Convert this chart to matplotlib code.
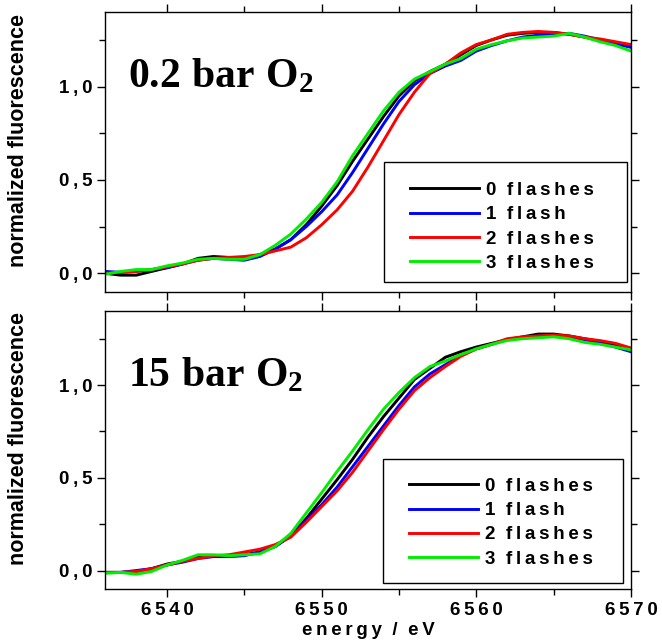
import matplotlib
matplotlib.use("Agg")
import matplotlib.pyplot as plt
from matplotlib.ticker import MultipleLocator, FuncFormatter
from matplotlib.patches import Rectangle

plt.rcParams['font.family'] = ['Liberation Sans', 'DejaVu Sans']
plt.rcParams['mathtext.fontset'] = 'custom'
plt.rcParams['mathtext.rm'] = 'Liberation Serif:bold'
plt.rcParams['mathtext.it'] = 'Liberation Serif:bold'
plt.rcParams['mathtext.bf'] = 'Liberation Serif:bold'

energy = list(range(6536, 6571))

labels = ["0 flashes", "1 flash", "2 flashes", "3 flashes"]
colors = ["#000000", "#0000ff", "#ff0000", "#00ee00"]

# panel 1: 0.2 bar O2
top_0 = [0.00, -0.01, -0.01, 0.01, 0.03, 0.05, 0.08, 0.09, 0.085, 0.08, 0.10, 0.13, 0.18, 0.26, 0.36,
         0.47, 0.60, 0.72, 0.84, 0.95, 1.03, 1.08, 1.12, 1.17, 1.22, 1.25, 1.275, 1.285, 1.29, 1.29,
         1.28, 1.265, 1.245, 1.225, 1.215]
top_1 = [0.01, 0.005, 0.01, 0.02, 0.03, 0.05, 0.07, 0.08, 0.075, 0.07, 0.09, 0.13, 0.18, 0.25, 0.33,
         0.42, 0.54, 0.67, 0.80, 0.92, 1.01, 1.07, 1.11, 1.14, 1.19, 1.22, 1.245, 1.265, 1.275, 1.28,
         1.285, 1.27, 1.25, 1.23, 1.21]
top_2 = [0.00, 0.005, 0.01, 0.02, 0.035, 0.05, 0.07, 0.08, 0.085, 0.09, 0.10, 0.12, 0.14, 0.19, 0.26,
         0.34, 0.44, 0.57, 0.71, 0.85, 0.97, 1.07, 1.12, 1.18, 1.225, 1.25, 1.28, 1.29, 1.295, 1.29,
         1.28, 1.265, 1.255, 1.24, 1.225]
top_3 = [-0.005, 0.01, 0.02, 0.02, 0.04, 0.055, 0.075, 0.08, 0.075, 0.075, 0.10, 0.15, 0.21, 0.29, 0.38,
         0.49, 0.63, 0.75, 0.87, 0.97, 1.04, 1.08, 1.12, 1.15, 1.20, 1.225, 1.245, 1.26, 1.265, 1.27,
         1.285, 1.265, 1.24, 1.22, 1.19]

# panel 2: 15 bar O2
bot_0 = [-0.01, -0.01, -0.005, 0.01, 0.035, 0.05, 0.075, 0.08, 0.08, 0.085, 0.10, 0.13, 0.19, 0.28, 0.385,
         0.49, 0.60, 0.72, 0.83, 0.93, 1.03, 1.09, 1.15, 1.18, 1.205, 1.225, 1.245, 1.26, 1.275, 1.275,
         1.265, 1.25, 1.235, 1.215, 1.19]
bot_1 = [-0.01, -0.01, 0.00, 0.01, 0.03, 0.045, 0.065, 0.075, 0.075, 0.08, 0.10, 0.13, 0.185, 0.27, 0.355,
         0.45, 0.56, 0.67, 0.78, 0.89, 0.99, 1.06, 1.11, 1.16, 1.195, 1.22, 1.245, 1.255, 1.265, 1.265,
         1.26, 1.245, 1.225, 1.205, 1.18]
bot_2 = [-0.01, -0.01, -0.005, 0.01, 0.03, 0.05, 0.065, 0.08, 0.085, 0.10, 0.115, 0.14, 0.18, 0.26, 0.345,
         0.43, 0.53, 0.645, 0.76, 0.87, 0.97, 1.04, 1.10, 1.155, 1.195, 1.22, 1.25, 1.26, 1.265, 1.27,
         1.265, 1.25, 1.24, 1.225, 1.20]
bot_3 = [-0.015, -0.01, -0.02, -0.005, 0.03, 0.055, 0.085, 0.085, 0.08, 0.085, 0.09, 0.13, 0.20, 0.31, 0.42,
         0.535, 0.645, 0.76, 0.87, 0.96, 1.04, 1.10, 1.13, 1.165, 1.195, 1.22, 1.24, 1.25, 1.255, 1.26,
         1.25, 1.23, 1.22, 1.205, 1.19]

panels = [
    (r"$\mathrm{0.2\ bar\ O_2}$", [top_0, top_1, top_2, top_3]),
    (r"$\mathrm{15\ bar\ O_2}$", [bot_0, bot_1, bot_2, bot_3]),
]

SP = "\u2009"


def spaced(s):
    return SP.join(list(s)).replace(SP + " " + SP, "  ")


fig = plt.figure(figsize=(6.62, 6.41), dpi=100)
rects = [[0.159, 0.5445, 0.794, 0.437], [0.159, 0.081, 0.794, 0.434]]
boxes = [(0.530, 0.036, 0.462, 0.428), (0.529, 0.022, 0.456, 0.446)]
leg_anchor = [(0.580, 0.393), (0.578, 0.400)]

for i, (title, series) in enumerate(panels):
    ax = fig.add_axes(rects[i])
    for lab, col, ys in zip(labels, colors, series):
        ax.plot(energy, ys, color=col, lw=2.1, label=spaced(lab))
    ax.set_xlim(6536, 6570)
    ax.set_ylim(-0.1, 1.4)
    ax.xaxis.set_major_locator(MultipleLocator(10))
    ax.xaxis.set_minor_locator(MultipleLocator(5))
    ax.yaxis.set_major_locator(MultipleLocator(0.5))
    ax.yaxis.set_minor_locator(MultipleLocator(0.25))
    ax.tick_params(which='both', direction='out', top=True, right=True, width=1)
    ax.tick_params(which='major', length=6)
    ax.tick_params(which='minor', length=4)
    ax.yaxis.set_major_formatter(FuncFormatter(lambda v, p: spaced(f"{v:.1f}".replace('.', ','))))
    ax.tick_params(axis='both', labelsize=13.5)
    if i == 0:
        ax.set_xticklabels([])
    else:
        ax.xaxis.set_major_formatter(FuncFormatter(lambda v, p: spaced(f"{v:.0f}")))
        ax.set_xlabel(spaced("energy / eV"), fontsize=13.5, fontweight='bold', labelpad=2)
    for t in ax.get_yticklabels() + ax.get_xticklabels():
        t.set_fontweight('bold')
    ax.set_ylabel("normalized fluorescence", fontsize=15.5, fontweight='bold')
    ax.yaxis.set_label_coords(-0.146, 0.54)
    for s in ax.spines.values():
        s.set_linewidth(1.0)
    ax.text(0.044, 0.73, title, transform=ax.transAxes, fontsize=30, ha='left', va='baseline')
    bx, by, bw, bh = boxes[i]
    ax.add_patch(Rectangle((bx, by), bw, bh, transform=ax.transAxes, fill=True, facecolor='white',
                           edgecolor='black', lw=1.0, zorder=4))
    leg = ax.legend(loc='upper left', bbox_to_anchor=leg_anchor[i], frameon=False,
                    fontsize=13.5, handlelength=3.7, handletextpad=0.35,
                    labelspacing=0.38, borderpad=0.0, borderaxespad=0.0)
    leg.set_zorder(5)
    for line in leg.get_lines():
        line.set_linewidth(2.1)
    for t in leg.get_texts():
        t.set_fontweight('bold')

fig.savefig("out.png", dpi=100)
